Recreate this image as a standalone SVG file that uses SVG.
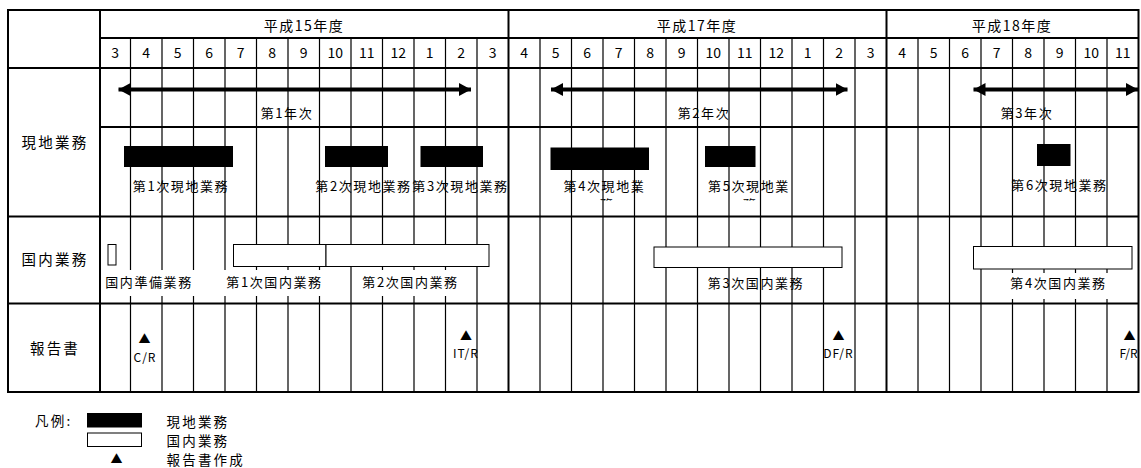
<svg xmlns="http://www.w3.org/2000/svg" width="1141" height="468" viewBox="0 0 1141 468">
<style>
text{font-family:"Noto Sans CJK JP","Noto Sans",sans-serif;fill:#000}
.hd{font-size:14px;text-anchor:middle;letter-spacing:1.5px}
.mo{font-size:14px;text-anchor:middle}
.rl{font-size:14.5px;text-anchor:middle;letter-spacing:2.2px}
.lb{font-size:13px;text-anchor:middle;letter-spacing:1.6px}
.rp{font-size:12px;text-anchor:middle;letter-spacing:1px}
.tri{font-size:12px;text-anchor:middle}
.lg{font-size:13.5px;letter-spacing:2.2px}
.thin{stroke:#000;stroke-width:1.2;fill:none}
.thick{stroke:#000;stroke-width:2;fill:none}
.blk{fill:#000;stroke:#000;stroke-width:1}
.wht{fill:#fff;stroke:#000;stroke-width:1}
.box{fill:#fff;stroke:none}
.arr{stroke:#000;stroke-width:4;fill:none;marker-start:url(#ah);marker-end:url(#ah)}
</style>
<defs>
<marker id="ah" markerUnits="userSpaceOnUse" markerWidth="14" markerHeight="14" refX="12" refY="6.5" orient="auto-start-reverse" viewBox="0 0 14 14">
<path d="M0,0 L12,6.5 L0,13 z" fill="#000"/>
</marker>
<clipPath id="clipWrap"><rect x="500" y="190" width="320" height="10.5"/></clipPath>
</defs>

<g id="header">
<text class="hd" x="304" y="31">平成15年度</text>
<text class="hd" x="697" y="31">平成17年度</text>
<text class="hd" x="1012" y="31">平成18年度</text>
<text class="mo" x="115.25" y="58">3</text>
<text class="mo" x="146.25" y="58">4</text>
<text class="mo" x="177.75" y="58">5</text>
<text class="mo" x="209.25" y="58">6</text>
<text class="mo" x="240.75" y="58">7</text>
<text class="mo" x="272.25" y="58">8</text>
<text class="mo" x="303.75" y="58">9</text>
<text class="mo" x="335.25" y="58">10</text>
<text class="mo" x="366.75" y="58">11</text>
<text class="mo" x="398.25" y="58">12</text>
<text class="mo" x="429.75" y="58">1</text>
<text class="mo" x="461.25" y="58">2</text>
<text class="mo" x="492.75" y="58">3</text>
<text class="mo" x="524.25" y="58">4</text>
<text class="mo" x="555.75" y="58">5</text>
<text class="mo" x="587.25" y="58">6</text>
<text class="mo" x="618.75" y="58">7</text>
<text class="mo" x="650.25" y="58">8</text>
<text class="mo" x="681.75" y="58">9</text>
<text class="mo" x="713.25" y="58">10</text>
<text class="mo" x="744.75" y="58">11</text>
<text class="mo" x="776.25" y="58">12</text>
<text class="mo" x="807.75" y="58">1</text>
<text class="mo" x="839.25" y="58">2</text>
<text class="mo" x="870.75" y="58">3</text>
<text class="mo" x="902.25" y="58">4</text>
<text class="mo" x="933.75" y="58">5</text>
<text class="mo" x="965.25" y="58">6</text>
<text class="mo" x="996.75" y="58">7</text>
<text class="mo" x="1028.25" y="58">8</text>
<text class="mo" x="1059.75" y="58">9</text>
<text class="mo" x="1091.25" y="58">10</text>
<text class="mo" x="1122.75" y="58">11</text>
</g>

<g id="row-labels">
<text class="rl" x="55" y="148">現地業務</text>
<text class="rl" x="55" y="265">国内業務</text>
<text class="rl" x="55" y="354">報告書</text>
</g>

<g id="year-labels">
<text class="lb" x="287" y="118">第1年次</text>
<text class="lb" x="704" y="118">第2年次</text>
<text class="lb" x="1027" y="118">第3年次</text>
</g>

<g id="field-labels">
<text class="lb" x="181" y="190.5">第1次現地業務</text>
<text class="lb" x="363.5" y="190.5">第2次現地業務</text>
<text class="lb" x="460.5" y="190.5">第3次現地業務</text>
<text class="lb" x="604.5" y="190.5">第4次現地業</text>
<text class="lb" x="749" y="190.5">第5次現地業</text>
<g clip-path="url(#clipWrap)">
<text class="lb" x="607" y="209">務</text>
<text class="lb" x="750" y="209">務</text>
</g>
<text class="lb" x="1059.5" y="190">第6次現地業務</text>
</g>

<g id="reports">
<text class="tri" x="144.5" y="344">▲</text>
<text class="rp" x="145" y="362">C/R</text>
<text class="tri" x="466" y="341">▲</text>
<text class="rp" x="466" y="357.5">IT/R</text>
<text class="tri" x="838.5" y="341">▲</text>
<text class="rp" x="838.5" y="357.5">DF/R</text>
<text class="tri" x="1129.5" y="341">▲</text>
<text class="rp" x="1128.5" y="357.5" style="letter-spacing:0">F/R</text>
</g>

<g id="domestic-label-3">
<text class="lb" x="756" y="287.5">第3次国内業務</text>
</g>

<g id="grid">
<rect x="8" y="10" width="1130.5" height="382" class="thick"/>
<path class="thick" d="M100,10V392 M508.5,10V392 M886.5,10V392 M100,38H1138.5 M8,68H1138.5 M100,127H1138.5 M8,216.5H1138.5 M8,303.5H1138.5"/>
<path class="thin" d="M130.5,38V392 M162,38V392 M193.5,38V392 M225,38V392 M256.5,38V392 M288,38V392 M319.5,38V392 M351,38V392 M382.5,38V392 M414,38V392 M445.5,38V392 M477,38V392 M540,38V392 M571.5,38V392 M603,38V392 M634.5,38V392 M666,38V392 M697.5,38V392 M729,38V392 M760.5,38V392 M792,38V392 M823.5,38V392 M855,38V392 M918,38V392 M949.5,38V392 M981,38V392 M1012.5,38V392 M1044,38V392 M1075.5,38V392 M1107,38V392"/>
</g>

<g id="field-bars">
<rect class="blk" x="124.5" y="146.5" width="108" height="20"/>
<rect class="blk" x="325.5" y="146.5" width="62" height="20"/>
<rect class="blk" x="421" y="146.5" width="61.5" height="20"/>
<rect class="blk" x="551" y="148" width="97.5" height="21.5"/>
<rect class="blk" x="705.5" y="146.5" width="49.5" height="20"/>
<rect class="blk" x="1037.5" y="144.5" width="32.5" height="21"/>
</g>

<g id="domestic-bars">
<rect class="wht" x="108" y="244.5" width="8" height="20.5"/>
<rect class="wht" x="233.5" y="244.5" width="92.5" height="22"/>
<rect class="wht" x="326" y="244.5" width="163" height="22"/>
<rect class="wht" x="654" y="247" width="188" height="20.5"/>
<rect class="wht" x="973.5" y="246.5" width="158.5" height="22.5"/>
</g>

<g id="domestic-labels">
<rect class="box" x="103" y="270" width="125" height="26"/>
<rect class="box" x="228" y="270" width="108" height="26"/>
<rect class="box" x="359" y="270" width="110" height="26"/>
<rect class="box" x="995" y="273" width="122" height="26"/>
<text class="lb" x="149" y="287">国内準備業務</text>
<text class="lb" x="274.5" y="287">第1次国内業務</text>
<text class="lb" x="410.5" y="287">第2次国内業務</text>
<text class="lb" x="1058.5" y="288">第4次国内業務</text>
</g>

<g id="connectors">
<line class="arr" x1="118.5" y1="89.5" x2="471" y2="89.5"/>
<line class="arr" x1="551" y1="89.5" x2="847.5" y2="89.5"/>
<line class="arr" x1="973.5" y1="89.5" x2="1138" y2="89.5"/>
</g>

<g id="legend">
<text class="lg" x="35" y="426">凡例:</text>
<rect class="blk" x="87.5" y="413.5" width="54" height="13.5"/>
<rect class="wht" x="87.5" y="433" width="54" height="13.5"/>
<text class="tri" x="116.5" y="464">▲</text>
<text class="lg" x="166.5" y="426.5">現地業務</text>
<text class="lg" x="166.5" y="446">国内業務</text>
<text class="lg" x="166.5" y="465">報告書作成</text>
</g>
</svg>
